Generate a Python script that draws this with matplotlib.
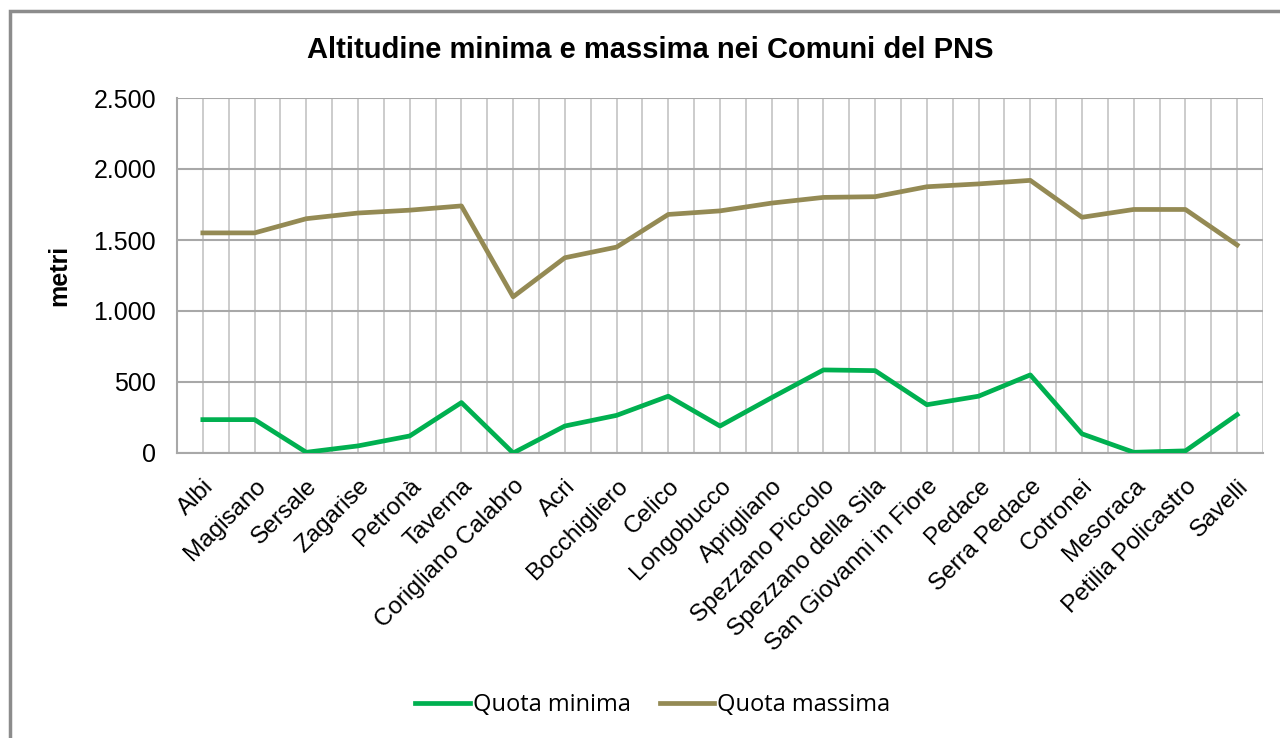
import numpy as np
import matplotlib.pyplot as plt
from matplotlib.patches import Rectangle
from matplotlib.ticker import FuncFormatter

plt.rcParams['font.family'] = ['Liberation Sans', 'DejaVu Sans']

comuni = ['Albi', 'Magisano', 'Sersale', 'Zagarise', 'Petronà', 'Taverna',
          'Corigliano Calabro', 'Acri', 'Bocchigliero', 'Celico', 'Longobucco',
          'Aprigliano', 'Spezzano Piccolo', 'Spezzano della Sila',
          'San Giovanni in Fiore', 'Pedace', 'Serra Pedace', 'Cotronei',
          'Mesoraca', 'Petilia Policastro', 'Savelli']

quota_min = [235, 235, 5, 50, 120, 355, 0, 190, 265, 400, 190,
             390, 585, 580, 340, 400, 550, 135, 5, 15, 270]
quota_max = [1550, 1550, 1650, 1690, 1710, 1740, 1100, 1375, 1450, 1680, 1705,
             1760, 1800, 1805, 1875, 1895, 1920, 1660, 1715, 1715, 1465]

yticks = [0, 500, 1000, 1500, 2000, 2500]

green = '#00B050'
olive = '#948A54'

fig = plt.figure(figsize=(12.8, 7.38), dpi=100)
ax = fig.add_axes([177 / 1280, 1 - 453 / 738, (1263 - 177) / 1280, (453 - 98) / 738])

# outer chart frame
fig.patches.append(Rectangle((10 / 1280, -0.1), 1.2, 1 - 11 / 738 + 0.1,
                             transform=fig.transFigure, fill=False,
                             edgecolor='#8c8c8c', linewidth=2.5, zorder=0))

x = np.arange(len(comuni))
ax.plot(x, quota_min, color=green, linewidth=3.4, label='Quota minima',
        solid_joinstyle='round', zorder=3)
ax.plot(x, quota_max, color=olive, linewidth=3.4, label='Quota massima',
        solid_joinstyle='round', zorder=3)

ax.set_xlim(-0.5, len(comuni) - 0.5)
ax.set_ylim(0, 2500)

# gridlines: vertical every half category, horizontal at major ticks
for v in np.arange(-0.5, len(comuni), 0.5):
    ax.axvline(v, color='#c8c8c8', linewidth=1.3, zorder=1)
for h in yticks:
    ax.axhline(h, color='#a8a8a8', linewidth=1.5, zorder=1)

for s in ax.spines.values():
    s.set_visible(False)
ax.spines['left'].set_visible(True)
ax.spines['left'].set_color('#a8a8a8')
ax.spines['left'].set_linewidth(1.5)
ax.spines['bottom'].set_visible(True)
ax.spines['bottom'].set_color('#a8a8a8')
ax.spines['bottom'].set_linewidth(1.5)

ax.set_yticks(yticks)
ax.yaxis.set_major_formatter(FuncFormatter(lambda v, p: f'{int(v):,}'.replace(',', '.')))
ax.tick_params(axis='y', length=0, pad=15, labelsize=18)
ax.set_xticks(x)
ax.set_xticklabels(comuni, rotation=45, ha='right', va='top',
                   rotation_mode='anchor', fontsize=17.5)
ax.tick_params(axis='x', length=0, pad=16)

ax.set_ylabel('metri', fontsize=18, fontweight='bold', labelpad=16)

fig.text(650 / 1280, 1 - 50 / 738, 'Altitudine minima e massima nei Comuni del PNS',
         ha='center', va='center', fontsize=21, fontweight='bold')

leg = fig.legend(loc='center', bbox_to_anchor=(653 / 1280, 1 - 705 / 738), ncol=2,
                 frameon=False, handlelength=2.3, handletextpad=0.15,
                 columnspacing=1.2, prop={'family': 'Open Sans', 'size': 17})

fig.savefig('out.png', dpi=100)
